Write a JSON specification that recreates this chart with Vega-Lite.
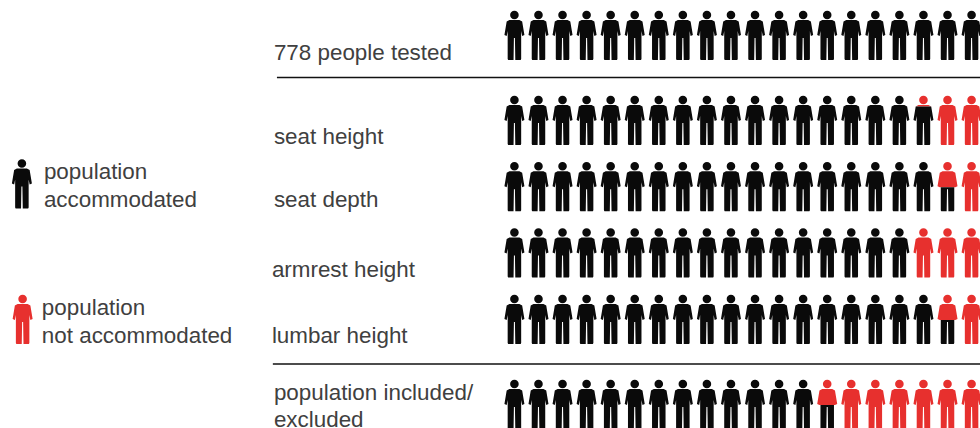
{"$schema":"https://vega.github.io/schema/vega-lite/v6.json","width":980,"height":428,"autosize":{"type":"none"},"padding":0,"background":"white","config":{"view":{"stroke":null}},
"encoding":{"x":{"type":"quantitative","scale":{"domain":[-20.38,20.35],"nice":false,"zero":false},"axis":null},"y":{"type":"quantitative","scale":{"domain":[5.937,-0.529],"nice":false,"zero":false},"axis":null}},
"layer":[
{"data":{"values":[{"start":-8.87,"end":20.35,"row":0.642},{"start":-9.04,"end":20.35,"row":4.97}]},"mark":{"type":"rule","color":"#111111","strokeWidth":1.6},"encoding":{"x":{"field":"start","type":"quantitative"},"x2":{"field":"end"},"y":{"field":"row","type":"quantitative"}}},
{"data":{"values":[
{"label":"778 people tested","col":-8.996,"row":0.265},{"label":"seat height","col":-8.996,"row":1.534},{"label":"seat depth","col":-8.996,"row":2.5},{"label":"armrest height","col":-9.08,"row":3.543},{"label":"lumbar height","col":-9.08,"row":4.54},{"label":"population included/","col":-8.996,"row":5.401},{"label":"excluded","col":-8.996,"row":5.809},{"label":"population","col":-18.555,"row":2.077},{"label":"accommodated","col":-18.555,"row":2.5},{"label":"population","col":-18.64,"row":4.117},{"label":"not accommodated","col":-18.64,"row":4.54}]},
"mark":{"type":"text","align":"left","baseline":"middle","font":"Liberation Sans","fontSize":22.4,"color":"#404040"},"encoding":{"x":{"field":"col","type":"quantitative"},"y":{"field":"row","type":"quantitative"},"text":{"field":"label"}}},
{"data":{"values":[
{"measure":"legend","row":2.243,"person":-19.47,"state":"accommodated","part":"whole"},
{"measure":"legend","row":4.29,"person":-19.44,"state":"not accommodated","part":"whole"},
{"measure":"778 people tested","row":0,"person":1,"state":"accommodated","part":"whole"},{"measure":"778 people tested","row":0,"person":2,"state":"accommodated","part":"whole"},{"measure":"778 people tested","row":0,"person":3,"state":"accommodated","part":"whole"},{"measure":"778 people tested","row":0,"person":4,"state":"accommodated","part":"whole"},{"measure":"778 people tested","row":0,"person":5,"state":"accommodated","part":"whole"},{"measure":"778 people tested","row":0,"person":6,"state":"accommodated","part":"whole"},{"measure":"778 people tested","row":0,"person":7,"state":"accommodated","part":"whole"},{"measure":"778 people tested","row":0,"person":8,"state":"accommodated","part":"whole"},{"measure":"778 people tested","row":0,"person":9,"state":"accommodated","part":"whole"},{"measure":"778 people tested","row":0,"person":10,"state":"accommodated","part":"whole"},{"measure":"778 people tested","row":0,"person":11,"state":"accommodated","part":"whole"},{"measure":"778 people tested","row":0,"person":12,"state":"accommodated","part":"whole"},{"measure":"778 people tested","row":0,"person":13,"state":"accommodated","part":"whole"},{"measure":"778 people tested","row":0,"person":14,"state":"accommodated","part":"whole"},{"measure":"778 people tested","row":0,"person":15,"state":"accommodated","part":"whole"},{"measure":"778 people tested","row":0,"person":16,"state":"accommodated","part":"whole"},{"measure":"778 people tested","row":0,"person":17,"state":"accommodated","part":"whole"},{"measure":"778 people tested","row":0,"person":18,"state":"accommodated","part":"whole"},{"measure":"778 people tested","row":0,"person":19,"state":"accommodated","part":"whole"},{"measure":"778 people tested","row":0,"person":20,"state":"accommodated","part":"whole"},
{"measure":"seat height","row":1.284,"person":1,"state":"accommodated","part":"whole"},{"measure":"seat height","row":1.284,"person":2,"state":"accommodated","part":"whole"},{"measure":"seat height","row":1.284,"person":3,"state":"accommodated","part":"whole"},{"measure":"seat height","row":1.284,"person":4,"state":"accommodated","part":"whole"},{"measure":"seat height","row":1.284,"person":5,"state":"accommodated","part":"whole"},{"measure":"seat height","row":1.284,"person":6,"state":"accommodated","part":"whole"},{"measure":"seat height","row":1.284,"person":7,"state":"accommodated","part":"whole"},{"measure":"seat height","row":1.284,"person":8,"state":"accommodated","part":"whole"},{"measure":"seat height","row":1.284,"person":9,"state":"accommodated","part":"whole"},{"measure":"seat height","row":1.284,"person":10,"state":"accommodated","part":"whole"},{"measure":"seat height","row":1.284,"person":11,"state":"accommodated","part":"whole"},{"measure":"seat height","row":1.284,"person":12,"state":"accommodated","part":"whole"},{"measure":"seat height","row":1.284,"person":13,"state":"accommodated","part":"whole"},{"measure":"seat height","row":1.284,"person":14,"state":"accommodated","part":"whole"},{"measure":"seat height","row":1.284,"person":15,"state":"accommodated","part":"whole"},{"measure":"seat height","row":1.284,"person":16,"state":"accommodated","part":"whole"},{"measure":"seat height","row":1.284,"person":17,"state":"accommodated","part":"whole"},{"measure":"seat height","row":1.284,"person":18,"state":"not accommodated","part":"head top"},{"measure":"seat height","row":1.284,"person":18,"state":"accommodated","part":"below head"},{"measure":"seat height","row":1.284,"person":19,"state":"not accommodated","part":"whole"},{"measure":"seat height","row":1.284,"person":20,"state":"not accommodated","part":"whole"},
{"measure":"seat depth","row":2.284,"person":1,"state":"accommodated","part":"whole"},{"measure":"seat depth","row":2.284,"person":2,"state":"accommodated","part":"whole"},{"measure":"seat depth","row":2.284,"person":3,"state":"accommodated","part":"whole"},{"measure":"seat depth","row":2.284,"person":4,"state":"accommodated","part":"whole"},{"measure":"seat depth","row":2.284,"person":5,"state":"accommodated","part":"whole"},{"measure":"seat depth","row":2.284,"person":6,"state":"accommodated","part":"whole"},{"measure":"seat depth","row":2.284,"person":7,"state":"accommodated","part":"whole"},{"measure":"seat depth","row":2.284,"person":8,"state":"accommodated","part":"whole"},{"measure":"seat depth","row":2.284,"person":9,"state":"accommodated","part":"whole"},{"measure":"seat depth","row":2.284,"person":10,"state":"accommodated","part":"whole"},{"measure":"seat depth","row":2.284,"person":11,"state":"accommodated","part":"whole"},{"measure":"seat depth","row":2.284,"person":12,"state":"accommodated","part":"whole"},{"measure":"seat depth","row":2.284,"person":13,"state":"accommodated","part":"whole"},{"measure":"seat depth","row":2.284,"person":14,"state":"accommodated","part":"whole"},{"measure":"seat depth","row":2.284,"person":15,"state":"accommodated","part":"whole"},{"measure":"seat depth","row":2.284,"person":16,"state":"accommodated","part":"whole"},{"measure":"seat depth","row":2.284,"person":17,"state":"accommodated","part":"whole"},{"measure":"seat depth","row":2.284,"person":18,"state":"accommodated","part":"whole"},{"measure":"seat depth","row":2.284,"person":19,"state":"not accommodated","part":"upper body"},{"measure":"seat depth","row":2.284,"person":19,"state":"accommodated","part":"legs"},{"measure":"seat depth","row":2.284,"person":20,"state":"not accommodated","part":"whole"},
{"measure":"armrest height","row":3.284,"person":1,"state":"accommodated","part":"whole"},{"measure":"armrest height","row":3.284,"person":2,"state":"accommodated","part":"whole"},{"measure":"armrest height","row":3.284,"person":3,"state":"accommodated","part":"whole"},{"measure":"armrest height","row":3.284,"person":4,"state":"accommodated","part":"whole"},{"measure":"armrest height","row":3.284,"person":5,"state":"accommodated","part":"whole"},{"measure":"armrest height","row":3.284,"person":6,"state":"accommodated","part":"whole"},{"measure":"armrest height","row":3.284,"person":7,"state":"accommodated","part":"whole"},{"measure":"armrest height","row":3.284,"person":8,"state":"accommodated","part":"whole"},{"measure":"armrest height","row":3.284,"person":9,"state":"accommodated","part":"whole"},{"measure":"armrest height","row":3.284,"person":10,"state":"accommodated","part":"whole"},{"measure":"armrest height","row":3.284,"person":11,"state":"accommodated","part":"whole"},{"measure":"armrest height","row":3.284,"person":12,"state":"accommodated","part":"whole"},{"measure":"armrest height","row":3.284,"person":13,"state":"accommodated","part":"whole"},{"measure":"armrest height","row":3.284,"person":14,"state":"accommodated","part":"whole"},{"measure":"armrest height","row":3.284,"person":15,"state":"accommodated","part":"whole"},{"measure":"armrest height","row":3.284,"person":16,"state":"accommodated","part":"whole"},{"measure":"armrest height","row":3.284,"person":17,"state":"accommodated","part":"whole"},{"measure":"armrest height","row":3.284,"person":18,"state":"not accommodated","part":"whole"},{"measure":"armrest height","row":3.284,"person":19,"state":"not accommodated","part":"whole"},{"measure":"armrest height","row":3.284,"person":20,"state":"not accommodated","part":"whole"},
{"measure":"lumbar height","row":4.29,"person":1,"state":"accommodated","part":"whole"},{"measure":"lumbar height","row":4.29,"person":2,"state":"accommodated","part":"whole"},{"measure":"lumbar height","row":4.29,"person":3,"state":"accommodated","part":"whole"},{"measure":"lumbar height","row":4.29,"person":4,"state":"accommodated","part":"whole"},{"measure":"lumbar height","row":4.29,"person":5,"state":"accommodated","part":"whole"},{"measure":"lumbar height","row":4.29,"person":6,"state":"accommodated","part":"whole"},{"measure":"lumbar height","row":4.29,"person":7,"state":"accommodated","part":"whole"},{"measure":"lumbar height","row":4.29,"person":8,"state":"accommodated","part":"whole"},{"measure":"lumbar height","row":4.29,"person":9,"state":"accommodated","part":"whole"},{"measure":"lumbar height","row":4.29,"person":10,"state":"accommodated","part":"whole"},{"measure":"lumbar height","row":4.29,"person":11,"state":"accommodated","part":"whole"},{"measure":"lumbar height","row":4.29,"person":12,"state":"accommodated","part":"whole"},{"measure":"lumbar height","row":4.29,"person":13,"state":"accommodated","part":"whole"},{"measure":"lumbar height","row":4.29,"person":14,"state":"accommodated","part":"whole"},{"measure":"lumbar height","row":4.29,"person":15,"state":"accommodated","part":"whole"},{"measure":"lumbar height","row":4.29,"person":16,"state":"accommodated","part":"whole"},{"measure":"lumbar height","row":4.29,"person":17,"state":"accommodated","part":"whole"},{"measure":"lumbar height","row":4.29,"person":18,"state":"accommodated","part":"whole"},{"measure":"lumbar height","row":4.29,"person":19,"state":"not accommodated","part":"upper body"},{"measure":"lumbar height","row":4.29,"person":19,"state":"accommodated","part":"legs"},{"measure":"lumbar height","row":4.29,"person":20,"state":"not accommodated","part":"whole"},
{"measure":"population included/excluded","row":5.574,"person":1,"state":"accommodated","part":"whole"},{"measure":"population included/excluded","row":5.574,"person":2,"state":"accommodated","part":"whole"},{"measure":"population included/excluded","row":5.574,"person":3,"state":"accommodated","part":"whole"},{"measure":"population included/excluded","row":5.574,"person":4,"state":"accommodated","part":"whole"},{"measure":"population included/excluded","row":5.574,"person":5,"state":"accommodated","part":"whole"},{"measure":"population included/excluded","row":5.574,"person":6,"state":"accommodated","part":"whole"},{"measure":"population included/excluded","row":5.574,"person":7,"state":"accommodated","part":"whole"},{"measure":"population included/excluded","row":5.574,"person":8,"state":"accommodated","part":"whole"},{"measure":"population included/excluded","row":5.574,"person":9,"state":"accommodated","part":"whole"},{"measure":"population included/excluded","row":5.574,"person":10,"state":"accommodated","part":"whole"},{"measure":"population included/excluded","row":5.574,"person":11,"state":"accommodated","part":"whole"},{"measure":"population included/excluded","row":5.574,"person":12,"state":"accommodated","part":"whole"},{"measure":"population included/excluded","row":5.574,"person":13,"state":"accommodated","part":"whole"},{"measure":"population included/excluded","row":5.574,"person":14,"state":"not accommodated","part":"upper body"},{"measure":"population included/excluded","row":5.574,"person":14,"state":"accommodated","part":"legs"},{"measure":"population included/excluded","row":5.574,"person":15,"state":"not accommodated","part":"whole"},{"measure":"population included/excluded","row":5.574,"person":16,"state":"not accommodated","part":"whole"},{"measure":"population included/excluded","row":5.574,"person":17,"state":"not accommodated","part":"whole"},{"measure":"population included/excluded","row":5.574,"person":18,"state":"not accommodated","part":"whole"},{"measure":"population included/excluded","row":5.574,"person":19,"state":"not accommodated","part":"whole"},{"measure":"population included/excluded","row":5.574,"person":20,"state":"not accommodated","part":"whole"}
]},
"mark":{"type":"point","filled":true,"opacity":1,"size":2500,"strokeWidth":0},
"encoding":{"x":{"field":"person","type":"quantitative"},"y":{"field":"row","type":"quantitative"},
"color":{"field":"state","type":"nominal","legend":null,"scale":{"domain":["accommodated","not accommodated"],"range":["#0a0a0a","#e7302e"]}},
"shape":{"field":"part","type":"nominal","legend":null,"scale":{"domain":["whole","head top","below head","upper body","legs"],"range":[
"M0,-0.97C0.095,-0.97,0.172,-0.893,0.172,-0.8C0.172,-0.707,0.095,-0.63,0,-0.63C-0.095,-0.63,-0.172,-0.707,-0.172,-0.8C-0.172,-0.893,-0.095,-0.97,0,-0.97ZM-0.2,-0.6L0.2,-0.6L0.31,-0.54L0.4,0L0.31,0.04L0.27,-0.16L0.27,0.96L0.25,1L0.035,1L0.02,0.12L-0.02,0.12L-0.035,1L-0.25,1L-0.27,0.96L-0.27,-0.16L-0.31,0.04L-0.4,0L-0.31,-0.54Z",
"M0,-0.97C0.095,-0.97,0.172,-0.893,0.172,-0.8C0.172,-0.707,0.095,-0.63,0,-0.63C-0.095,-0.63,-0.172,-0.707,-0.172,-0.8C-0.172,-0.893,-0.095,-0.97,0,-0.97ZM-0.2,-0.6L0.2,-0.6L0.31,-0.54L-0.31,-0.54Z",
"M-0.31,-0.54L0.31,-0.54L0.4,0L0.31,0.04L0.27,-0.16L0.27,0.96L0.25,1L0.035,1L0.02,0.12L-0.02,0.12L-0.035,1L-0.25,1L-0.27,0.96L-0.27,-0.16L-0.31,0.04L-0.4,0Z",
"M0,-0.97C0.095,-0.97,0.172,-0.893,0.172,-0.8C0.172,-0.707,0.095,-0.63,0,-0.63C-0.095,-0.63,-0.172,-0.707,-0.172,-0.8C-0.172,-0.893,-0.095,-0.97,0,-0.97ZM-0.2,-0.6L0.2,-0.6L0.31,-0.54L0.4,0L0.31,0.04L-0.31,0.04L-0.4,0L-0.31,-0.54Z",
"M-0.27,0.04L0.27,0.04L0.27,0.96L0.25,1L0.035,1L0.02,0.12L-0.02,0.12L-0.035,1L-0.25,1L-0.27,0.96Z"
]}}}}
]}
